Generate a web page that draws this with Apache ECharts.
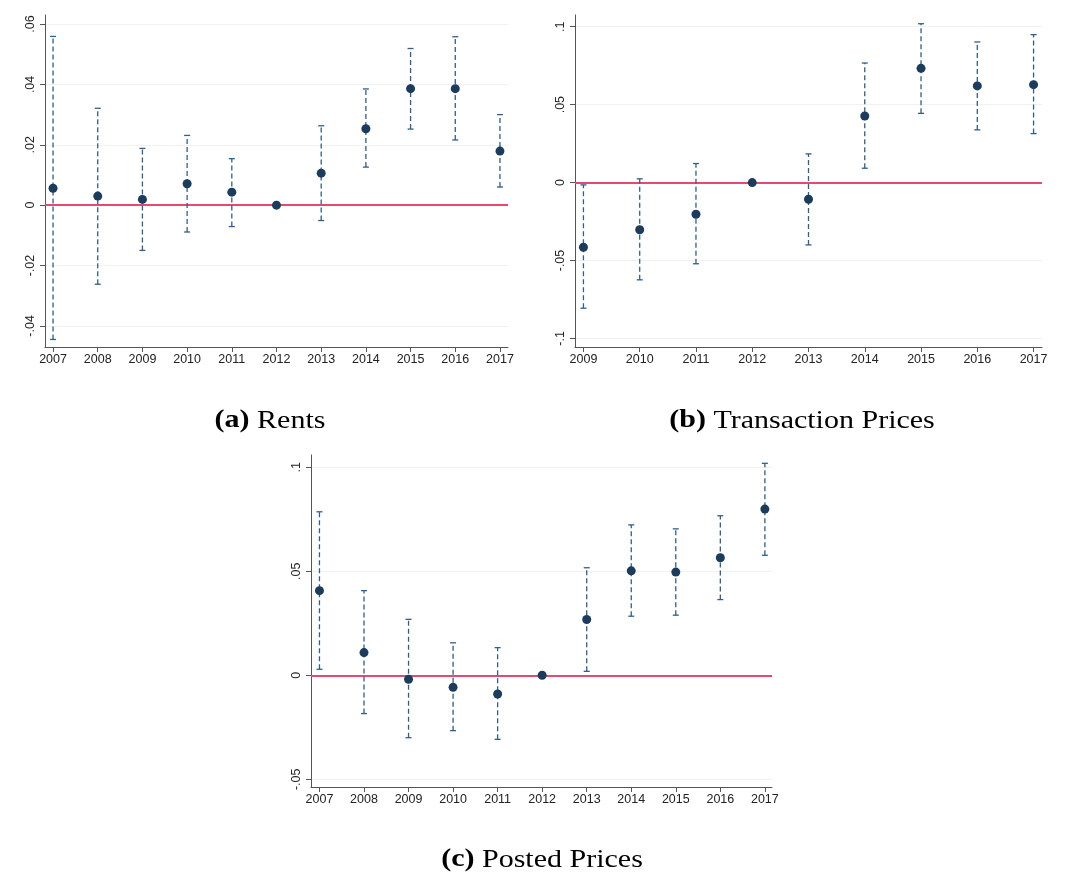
<!DOCTYPE html>
<html>
<head>
<meta charset="utf-8">
<script src="https://cdn.jsdelivr.net/npm/echarts@6/dist/echarts.min.js"></script>
<style>
  html, body { margin: 0; padding: 0; background: #fff; }
  #chart { width: 1065px; height: 875px; }
</style>
</head>
<body>
<div id="chart"></div>
<script>
// years per panel
var yearsA = [2007, 2008, 2009, 2010, 2011, 2012, 2013, 2014, 2015, 2016, 2017];
var yearsB = [2009, 2010, 2011, 2012, 2013, 2014, 2015, 2016, 2017];
var yearsC = [2007, 2008, 2009, 2010, 2011, 2012, 2013, 2014, 2015, 2016, 2017];

// (a) Rents: estimate, lower and upper bound
var rentsEst = [0.0056, 0.0030, 0.0019, 0.0071, 0.0043, 0, 0.0106, 0.0253, 0.0386, 0.0386, 0.0179];
var rentsLo  = [-0.0445, -0.0262, -0.0150, -0.0089, -0.0071, null, -0.0051, 0.0126, 0.0252, 0.0216, 0.0060];
var rentsHi  = [0.0559, 0.0321, 0.0188, 0.0231, 0.0154, null, 0.0263, 0.0385, 0.0519, 0.0558, 0.0300];

// (b) Transaction prices
var transEst = [-0.0415, -0.0303, -0.0203, 0, -0.0107, 0.0427, 0.0733, 0.0620, 0.0628];
var transLo  = [-0.0806, -0.0624, -0.0521, null, -0.0400, 0.0092, 0.0444, 0.0338, 0.0314];
var transHi  = [-0.0015, 0.0024, 0.0122, null, 0.0184, 0.0767, 0.1019, 0.0902, 0.0949];

// (c) Posted prices
var postEst = [0.0407, 0.0109, -0.0019, -0.0058, -0.0090, 0, 0.0268, 0.0502, 0.0496, 0.0565, 0.0799];
var postLo  = [0.0029, -0.0184, -0.0300, -0.0266, -0.0308, null, 0.0019, 0.0284, 0.0289, 0.0364, 0.0577];
var postHi  = [0.0786, 0.0407, 0.0269, 0.0156, 0.0133, null, 0.0517, 0.0723, 0.0704, 0.0767, 0.1019];

// y tick labels
var ticksA = [-0.04, -0.02, 0, 0.02, 0.04, 0.06];
var ticksB = [-0.1, -0.05, 0, 0.05, 0.1];
var ticksC = [-0.05, 0, 0.05, 0.1];

var dotColor = '#1b3c5c';
var barColor = '#2f5f8a';
var zeroColor = '#e8496f';

function stataFmt(v) {
    if (Math.abs(v) < 1e-9) return '0';
    var s = String(+v.toFixed(4));
    return s.replace('0.', '.');
}

function pairs(years, vals) {
    return years.map(function (y, i) { return [y, vals[i]]; });
}
function bars(years, lo, hi) {
    var out = [];
    years.forEach(function (y, i) {
        if (lo[i] != null) out.push([y, lo[i], hi[i]]);
    });
    return out;
}

function renderBar(params, api) {
    var x = api.value(0);
    var lo = api.coord([x, api.value(1)]);
    var hi = api.coord([x, api.value(2)]);
    var half = 3;
    var st = { stroke: barColor, lineWidth: 1.3 };
    return {
        type: 'group',
        children: [
            { type: 'line', shape: { x1: lo[0], y1: lo[1], x2: hi[0], y2: hi[1] },
              style: { stroke: barColor, lineWidth: 1.3, lineDash: [5, 3] } },
            { type: 'line', shape: { x1: hi[0] - half, y1: hi[1], x2: hi[0] + half, y2: hi[1] }, style: st },
            { type: 'line', shape: { x1: lo[0] - half, y1: lo[1], x2: lo[0] + half, y2: lo[1] }, style: st }
        ]
    };
}

function xAx(idx, min, max, years) {
    return {
        type: 'value', gridIndex: idx, min: min, max: max,
        axisLine: { show: true, onZero: false, lineStyle: { color: '#555', width: 1 } },
        axisTick: { show: true, length: 5, customValues: years, lineStyle: { color: '#555' } },
        axisLabel: { customValues: years, color: '#222', fontSize: 12.5, margin: 6,
                     fontFamily: 'Liberation Sans, Arial, sans-serif', formatter: function (v) { return String(v); } },
        splitLine: { show: false }
    };
}
function yAx(idx, min, max, ticks) {
    return {
        type: 'value', gridIndex: idx, min: min, max: max,
        axisLine: { show: true, lineStyle: { color: '#555', width: 1 } },
        axisTick: { show: true, length: 5, customValues: ticks, lineStyle: { color: '#555' } },
        axisLabel: { customValues: ticks, rotate: 90, color: '#222', fontSize: 12.5, margin: 8,
                     fontFamily: 'Liberation Sans, Arial, sans-serif', formatter: stataFmt },
        splitLine: { show: true, lineStyle: { color: '#f1f1f1', width: 1 } }
    };
}

function panelSeries(idx, years, est, lo, hi) {
    return [
        {
            type: 'custom', xAxisIndex: idx, yAxisIndex: idx,
            renderItem: renderBar, data: bars(years, lo, hi), z: 3, silent: true
        },
        {
            type: 'scatter', xAxisIndex: idx, yAxisIndex: idx,
            symbolSize: 9, itemStyle: { color: dotColor, opacity: 1 },
            data: pairs(years, est), z: 4,
            markLine: {
                silent: true, symbol: 'none', label: { show: false },
                lineStyle: { color: zeroColor, width: 2, type: 'solid' },
                data: [{ yAxis: 0 }], z: 2
            }
        }
    ];
}

function caption(cx, cy, tag, label) {
    return {
        type: 'text', x: cx, y: cy, scaleX: 1.2, silent: true,
        style: {
            text: '{b|' + tag + '}{n| ' + label + '}',
            fontSize: 25, fontFamily: 'Liberation Serif',
            fill: '#000', align: 'center', verticalAlign: 'middle',
            rich: {
                b: { fontWeight: 'bold', fontSize: 25, fontFamily: 'Liberation Serif', fill: '#000' },
                n: { fontWeight: 'normal', fontSize: 25, fontFamily: 'Liberation Serif', fill: '#000' }
            }
        }
    };
}

var myChart = echarts.init(document.getElementById('chart'));

myChart.setOption({
    animation: false,
    grid: [
        { left: 45, top: 15, width: 463, height: 332 },
        { left: 575, top: 15, width: 467, height: 332 },
        { left: 311, top: 455, width: 461, height: 332 }
    ],
    xAxis: [
        xAx(0, 2006.82, 2017.18, yearsA),
        xAx(1, 2008.85, 2017.15, yearsB),
        xAx(2, 2006.81, 2017.16, yearsC)
    ],
    yAxis: [
        yAx(0, -0.047, 0.063, ticksA),
        yAx(1, -0.1055, 0.1075, ticksB),
        yAx(2, -0.0537, 0.1059, ticksC)
    ],
    series: []
        .concat(panelSeries(0, yearsA, rentsEst, rentsLo, rentsHi))
        .concat(panelSeries(1, yearsB, transEst, transLo, transHi))
        .concat(panelSeries(2, yearsC, postEst, postLo, postHi)),
    graphic: [
        caption(270, 421, '(a)', 'Rents'),
        caption(802, 421, '(b)', 'Transaction Prices'),
        caption(542, 860, '(c)', 'Posted Prices')
    ]
});
</script>
</body>
</html>
